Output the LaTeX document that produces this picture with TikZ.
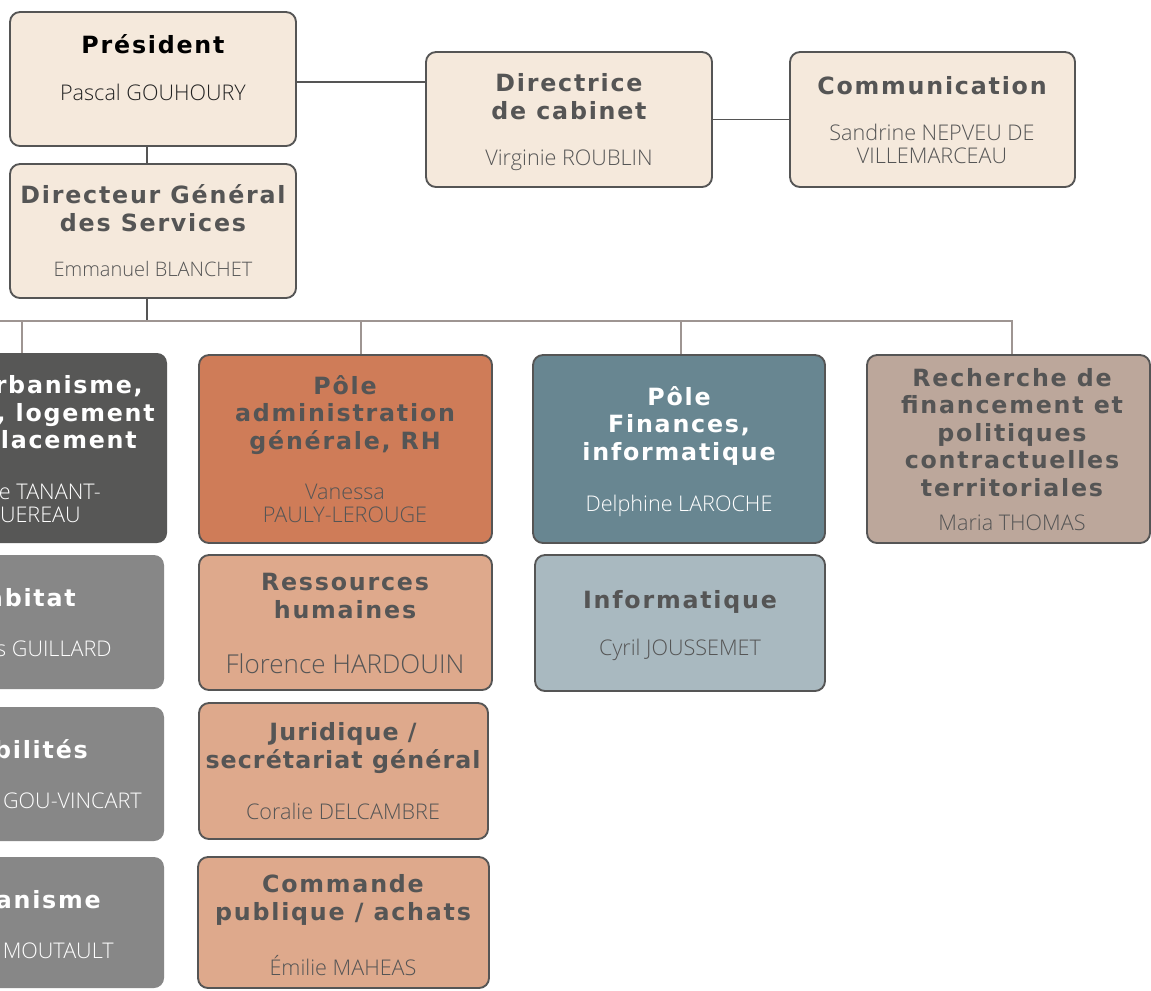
\documentclass[tikz,border=0pt]{standalone}
\usepackage{fontspec}
\newfontfamily\titlefont{DejaVu Sans}[LetterSpace=7.5]
\newfontfamily\titlefontn{DejaVu Sans}[LetterSpace=4.5]
\IfFontExistsTF{Open Sans Light}{\newfontfamily\namefont{Open Sans Light}}{\newfontfamily\namefont{Open Sans}}
\definecolor{cream}{HTML}{F5E9DC}
\definecolor{bordercol}{HTML}{555555}
\definecolor{darkbox}{HTML}{575756}
\definecolor{graybox}{HTML}{878787}
\definecolor{orangebox}{HTML}{CF7C58}
\definecolor{lorange}{HTML}{DEA98C}
\definecolor{tealbox}{HTML}{688691}
\definecolor{lteal}{HTML}{A9B9C0}
\definecolor{taupe}{HTML}{BCA79B}
\definecolor{buscol}{HTML}{9E9592}
\definecolor{txt}{HTML}{555555}
\definecolor{nearblack}{HTML}{222222}
\tikzset{
  box/.style={rounded corners=7.5pt, draw=bordercol, line width=1.4pt, inner sep=0pt},
  flatbox/.style={rounded corners=7.5pt, draw=none, inner sep=0pt},
  boxsz/.style 2 args={minimum width=#1*0.75pt, minimum height=#2*0.75pt},
  ttl/.style={font=\titlefont\bfseries\fontsize{17.8}{20.6}\selectfont, text=txt, align=center, anchor=base, inner sep=0pt},
  nm/.style={font=\namefont\fontsize{16.2}{16.9}\selectfont, text=txt, align=center, anchor=base, inner sep=0pt},
  fragt/.style={anchor=base east, inner sep=0pt, text=white, font=\titlefont\bfseries\fontsize{17.8}{20.6}\selectfont},
  fragn/.style={anchor=base east, inner sep=0pt, text=white, font=\namefont\fontsize{16.2}{16.9}\selectfont},
  link/.style={draw=bordercol, line width=1.4pt},
  bus/.style={draw=buscol, line width=1.4pt},
}
\begin{document}
\begin{tikzpicture}[x=0.75pt, y=-0.75pt]
\useasboundingbox (0,0) rectangle (1151,990);
\clip (0,0) rectangle (1151,990);
\fill[white] (0,0) rectangle (1151,990);

% ---- top boxes
\node[box, fill=cream, boxsz={286}{134}] (pres) at (153,79) {};
\node[box, fill=cream, boxsz={286}{134}] (dgs) at (153,231) {};
\node[box, fill=cream, boxsz={286}{135}] (dir) at (569,119.5) {};
\node[box, fill=cream, boxsz={285}{135}] (com) at (932.5,119.5) {};

% ---- left (clipped) column
\node[flatbox, fill=darkbox, boxsz={295}{190}] (urb) at (19.5,448) {};
\node[flatbox, fill=graybox, boxsz={293}{134}] (hab) at (17.5,622) {};
\node[flatbox, fill=graybox, boxsz={293}{134}] (mob) at (17.5,774) {};
\node[flatbox, fill=graybox, boxsz={293}{131}] (urba) at (17.5,922.5) {};

% ---- administration column
\node[box, fill=orangebox, boxsz={293}{188}] (adm) at (345.5,449) {};
\node[box, fill=lorange, boxsz={293}{135}] (rh) at (345.5,622.5) {};
\node[box, fill=lorange, boxsz={289}{136}] (jur) at (343.5,771) {};
\node[box, fill=lorange, boxsz={291}{131}] (cmd) at (343.5,922.5) {};

% ---- finances column
\node[box, fill=tealbox, boxsz={292}{188}] (fin) at (679,449) {};
\node[box, fill=lteal, boxsz={290}{136}] (inf) at (680,623) {};

% ---- recherche
\node[box, fill=taupe, boxsz={283}{188}] (rec) at (1008.5,449) {};

% ---- connectors
\draw[link] ([yshift=-2.25pt]pres.east) -- ([yshift=-2.25pt]pres.east -| dir.west);
\draw[link] (dir.east) -- (com.west);
\draw[link] ([xshift=-4.5pt]pres.south) -- ([xshift=-4.5pt]dgs.north);
\coordinate (busL) at (0,321);
\coordinate (busR) at (1012,321);
\coordinate (d1) at (22,321);
\coordinate (d2) at (361,321);
\coordinate (d3) at (681,321);
\draw[link] ([xshift=-4.5pt]dgs.south) -- ([xshift=-4.5pt]dgs.south |- busL);
\draw[bus] (busL) -- (busR) -- (busR |- rec.north);
\draw[bus] (d1) -- (d1 |- urb.north);
\draw[bus] (d2) -- (d2 |- adm.north);
\draw[bus] (d3) -- (d3 |- fin.north);

% ---- texts: top (multi-line nodes are placed by the baseline of their last line)
\node[ttl, text=black] (t-pres) at (153,53) {Président};
\node[nm, text=nearblack] (n-pres) at (153,100) {Pascal GOUHOURY};
\node[ttl] (t-dgs) at (153,231) {Directeur Général\\des Services};
\node[nm, font=\namefont\fontsize{15}{16.9}\selectfont] (n-dgs) at (153,276) {Emmanuel BLANCHET};
\node[ttl] (t-dir) at (569,119) {Directrice\\de cabinet};
\node[nm] (n-dir) at (569,165) {Virginie ROUBLIN};
\node[ttl] (t-com) at (932,94) {Communication};
\node[nm] (n-com) at (932,163) {Sandrine NEPVEU DE\\VILLEMARCEAU};

% ---- texts: left column (cut by the picture's edge)
\node[fragt] (f1) at (143,393) {rbanisme,};
\node[fragt] (f2) at (155,421) {, logement};
\node[fragt] (f3) at (137,448) {lacement};
\node[fragn] (f4) at (101,499) {e TANANT-};
\node[fragn] (f5) at (81,522) {UEREAU};
\node[fragt] (f6) at (76,606) {abitat};
\node[fragn] (f7) at (112,656) {s GUILLARD};
\node[fragt] (f8) at (88,758) {bilités};
\node[fragn] (f9) at (142,808) {GOU-VINCART};
\node[fragt] (f10) at (101,908) {anisme};
\node[fragn] (f11) at (114,958) {MOUTAULT};

% ---- texts: administration
\node[ttl] (t-adm) at (345,449) {Pôle\\administration\\générale, RH};
\node[nm] (n-adm) at (345,522) {Vanessa\\PAULY-LEROUGE};
\node[ttl] (t-rh) at (345,618) {Ressources\\humaines};
\node[nm, font=\namefont\fontsize{19.5}{20}\selectfont] (n-rh) at (345,673) {Florence HARDOUIN};
\node[ttl, font=\titlefontn\bfseries\fontsize{17.8}{20.6}\selectfont] (t-jur) at (343,768) {Juridique /\\secrétariat général};
\node[nm] (n-jur) at (343,819) {Coralie DELCAMBRE};
\node[ttl] (t-cmd) at (343,920) {Commande\\publique / achats};
\node[nm] (n-cmd) at (343,975) {Émilie MAHEAS};

% ---- texts: finances
\node[ttl, text=white] (t-fin) at (679,460) {Pôle\\Finances,\\informatique};
\node[nm, text=white] (n-fin) at (679,511) {Delphine LAROCHE};
\node[ttl] (t-inf) at (680,608) {Informatique};
\node[nm] (n-inf) at (680,655) {Cyril JOUSSEMET};

% ---- texts: recherche
\node[ttl] (t-rec) at (1012,496) {Recherche de\\financement et\\politiques\\contractuelles\\territoriales};
\node[nm] (n-rec) at (1012,530) {Maria THOMAS};
\end{tikzpicture}
\end{document}
